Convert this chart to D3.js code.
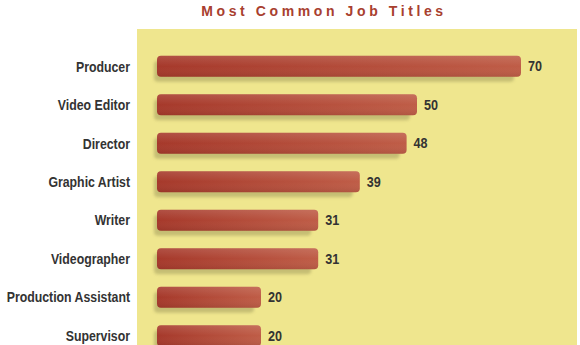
<!DOCTYPE html>
<html><head><meta charset="utf-8">
<script src="https://cdn.jsdelivr.net/npm/d3@7"></script>
<style>body{margin:0;background:#fff;} svg{display:block;}</style>
</head><body>
<svg id="c" width="580" height="345"></svg>
<script>
const categories = ["Producer","Video Editor","Director","Graphic Artist","Writer","Videographer","Production Assistant","Supervisor"];
const values = [70,50,48,39,31,31,20,20];
const title = "Most Common Job Titles";

const svg = d3.select("#c");
const defs = svg.append("defs");
const g1 = defs.append("linearGradient").attr("id","barg").attr("x1","0").attr("x2","1").attr("y1","0").attr("y2","0");
g1.append("stop").attr("offset","0%").attr("stop-color","#a6392b");
g1.append("stop").attr("offset","100%").attr("stop-color","#bf5d47");
const g2 = defs.append("linearGradient").attr("id","barv").attr("x1","0").attr("x2","0").attr("y1","0").attr("y2","1");
g2.append("stop").attr("offset","0%").attr("stop-color","#fff").attr("stop-opacity",0.12);
g2.append("stop").attr("offset","50%").attr("stop-color","#fff").attr("stop-opacity",0);
g2.append("stop").attr("offset","100%").attr("stop-color","#000").attr("stop-opacity",0.08);
const f = defs.append("filter").attr("id","blur").attr("x","-10%").attr("y","-50%").attr("width","120%").attr("height","200%");
f.append("feGaussianBlur").attr("stdDeviation",1.6);

// panel
svg.append("rect").attr("x",137).attr("y",29).attr("width",440).attr("height",316).attr("fill","#efe68e");

const x = d3.scaleLinear().domain([0,70]).range([157,521]);
const y = d3.scaleBand().domain(categories).range([48,354]).paddingInner(0.45).paddingOuter(0.2);

const rows = svg.selectAll("g.row").data(categories).join("g").attr("class","row");
// shadows
rows.append("rect")
  .attr("x", x(0)-3)
  .attr("y", d=>y(d)+5)
  .attr("width", (d,i)=>x(values[i])-x(0)-4)
  .attr("height", y.bandwidth())
  .attr("rx",4)
  .attr("fill","#b8b06a").attr("opacity",0.75).attr("filter","url(#blur)");
rows.append("rect")
  .attr("x", x(0))
  .attr("y", d=>y(d))
  .attr("width", (d,i)=>x(values[i])-x(0))
  .attr("height", y.bandwidth())
  .attr("rx",4)
  .attr("fill","url(#barg)");
rows.append("rect")
  .attr("x", x(0))
  .attr("y", d=>y(d))
  .attr("width", (d,i)=>x(values[i])-x(0))
  .attr("height", y.bandwidth())
  .attr("rx",4)
  .attr("fill","url(#barv)");
rows.append("text")
  .attr("transform", d=>`translate(130,${y(d)+y.bandwidth()/2}) scale(0.85,1)`)
  .attr("dy","0.36em")
  .attr("text-anchor","end")
  .attr("font-family","'Liberation Sans',Arial,sans-serif")
  .attr("font-weight","bold").attr("font-size",14.5).attr("fill","#333")
  .text(d=>d);
rows.append("text")
  .attr("transform", (d,i)=>`translate(${x(values[i])+7},${y(d)+y.bandwidth()/2}) scale(0.9,1)`)
  .attr("dy","0.36em")
  .attr("font-family","'Liberation Sans',Arial,sans-serif")
  .attr("font-weight","bold").attr("font-size",14).attr("fill","#333")
  .text((d,i)=>values[i]);

svg.append("text").attr("x",324).attr("y",16).attr("text-anchor","middle")
  .attr("font-family","'Liberation Sans',Arial,sans-serif").attr("font-weight","bold")
  .attr("font-size",14).attr("letter-spacing","3.6px").attr("fill","#a8402f")
  .text(title);
</script>
</body></html>
